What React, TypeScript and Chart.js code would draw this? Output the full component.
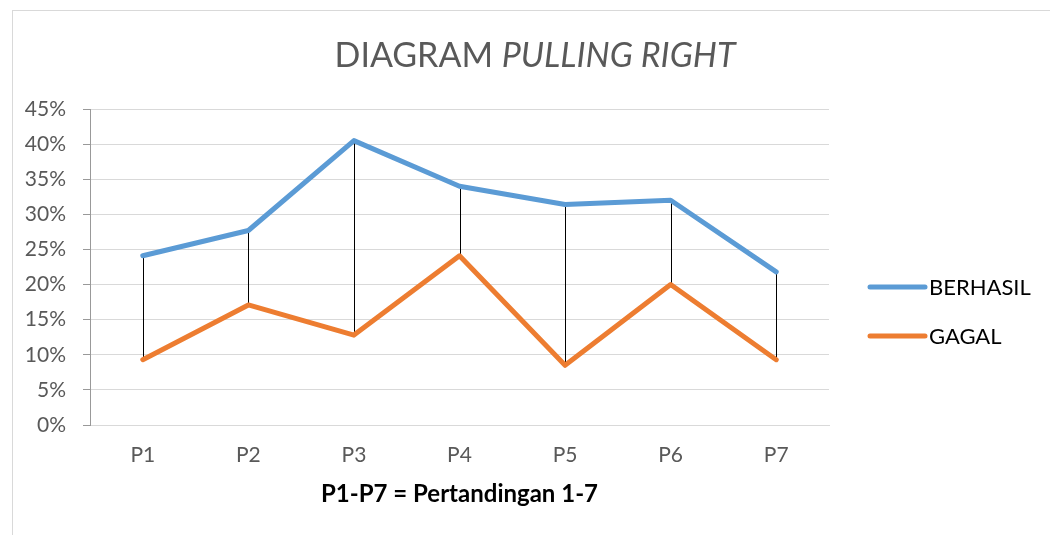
import React, { useEffect, useRef } from "react";
import { Chart, registerables } from "chart.js";

Chart.register(...registerables);

const categories = ["P1", "P2", "P3", "P4", "P5", "P6", "P7"];
const berhasil = [24.1, 27.7, 40.5, 34.0, 31.4, 32.0, 21.8];
const gagal = [9.3, 17.1, 12.8, 24.1, 8.5, 20.0, 9.3];
const seriesNames = ["BERHASIL", "GAGAL"];
const seriesColors = ["#5B9BD5", "#ED7D31"];
const yTicks = { min: 0, max: 45, step: 5 };
const titleNormal = "DIAGRAM ";
const titleItalic = "PULLING RIGHT";
const xTitle = "P1-P7 = Pertandingan 1-7";

const FONT = "Lato, 'Open Sans', sans-serif";

const decorPlugin = {
  id: "decor",
  beforeDraw(chart: any) {
    const ctx = chart.ctx;
    ctx.save();
    ctx.fillStyle = "#ffffff";
    ctx.fillRect(0, 0, chart.width, chart.height);
    ctx.strokeStyle = "#d9d9d9";
    ctx.lineWidth = 1;
    ctx.strokeRect(12.5, 10.5, 1200, 800);
    ctx.restore();
  },
  beforeDatasetsDraw(chart: any) {
    const ctx = chart.ctx;
    const m0 = chart.getDatasetMeta(0);
    const m1 = chart.getDatasetMeta(1);
    ctx.save();
    ctx.strokeStyle = "#000000";
    ctx.lineWidth = 1;
    for (let i = 0; i < m0.data.length; i++) {
      const a = m0.data[i];
      const b = m1.data[i];
      const x = Math.round(a.x) + 0.5;
      ctx.beginPath();
      ctx.moveTo(x, a.y);
      ctx.lineTo(x, b.y);
      ctx.stroke();
    }
    ctx.restore();
  },
  afterDraw(chart: any) {
    const ctx = chart.ctx;
    const area = chart.chartArea;
    ctx.save();
    // Title
    ctx.fillStyle = "#595959";
    ctx.textBaseline = "middle";
    ctx.textAlign = "left";
    const fN = `34px ${FONT}`;
    const fI = `italic 34px ${FONT}`;
    ctx.font = fN;
    const wN = ctx.measureText(titleNormal).width;
    ctx.font = fI;
    const wI = ctx.measureText(titleItalic).width;
    const tx = 535 - (wN + wI) / 2;
    ctx.font = fN;
    ctx.fillText(titleNormal, tx, 56);
    ctx.font = fI;
    ctx.fillText(titleItalic, tx + wN, 56);

    // X axis title
    ctx.fillStyle = "#000000";
    ctx.textAlign = "center";
    ctx.font = `bold 24px ${FONT}`;
    ctx.fillText(xTitle, (area.left + area.right) / 2, 494);

    // Legend
    const lx = area.right + 41;
    const ys = [287, 336];
    for (let i = 0; i < seriesNames.length; i++) {
      ctx.strokeStyle = seriesColors[i];
      ctx.lineWidth = 5;
      ctx.lineCap = "round";
      ctx.beginPath();
      ctx.moveTo(lx, ys[i]);
      ctx.lineTo(lx + 55, ys[i]);
      ctx.stroke();
      ctx.fillStyle = "#000000";
      ctx.textAlign = "left";
      ctx.font = `22px ${FONT}`;
      ctx.fillText(seriesNames[i], lx + 59, ys[i] + 1);
    }
    ctx.restore();
  },
};

export default function App() {
  const ref = useRef<HTMLCanvasElement | null>(null);
  useEffect(() => {
    if (!ref.current) return;
    const chart = new Chart(ref.current, {
      type: "line",
      data: {
        labels: categories,
        datasets: [
          {
            label: seriesNames[0],
            data: berhasil,
            borderColor: seriesColors[0],
            backgroundColor: seriesColors[0],
            borderWidth: 5,
            pointRadius: 0,
            borderCapStyle: "round",
            borderJoinStyle: "round",
            tension: 0,
          },
          {
            label: seriesNames[1],
            data: gagal,
            borderColor: seriesColors[1],
            backgroundColor: seriesColors[1],
            borderWidth: 5,
            pointRadius: 0,
            borderCapStyle: "round",
            borderJoinStyle: "round",
            tension: 0,
          },
        ],
      },
      options: {
        responsive: false,
        animation: false,
        layout: { padding: { left: 0, top: 109, right: 221, bottom: 0 } },
        plugins: {
          legend: { display: false },
          title: { display: false },
          tooltip: { enabled: false },
        },
        scales: {
          x: {
            offset: true,
            grid: { display: false, drawTicks: false },
            border: { display: true, color: "#d9d9d9" },
            ticks: {
              color: "#595959",
              font: { family: FONT, size: 21 },
              padding: 18,
              maxRotation: 0,
            },
            afterFit(scale: any) {
              scale.height = 110;
            },
          },
          y: {
            min: yTicks.min,
            max: yTicks.max,
            grid: {
              color: "#d9d9d9",
              tickColor: "#999999",
              tickLength: 7,
              lineWidth: 1,
            },
            border: { display: true, color: "#999999" },
            ticks: {
              stepSize: yTicks.step,
              color: "#595959",
              font: { family: FONT, size: 21 },
              padding: 17,
              callback: (v: any) => `${v}%`,
            },
            afterFit(scale: any) {
              scale.width = 90;
            },
          },
        },
      },
      plugins: [decorPlugin],
    });
    return () => chart.destroy();
  }, []);
  return (
    <div style={{ position: "fixed", left: 0, top: 0, width: 1050, height: 535 }}>
      <canvas ref={ref} width={1050} height={535} />
    </div>
  );
}
